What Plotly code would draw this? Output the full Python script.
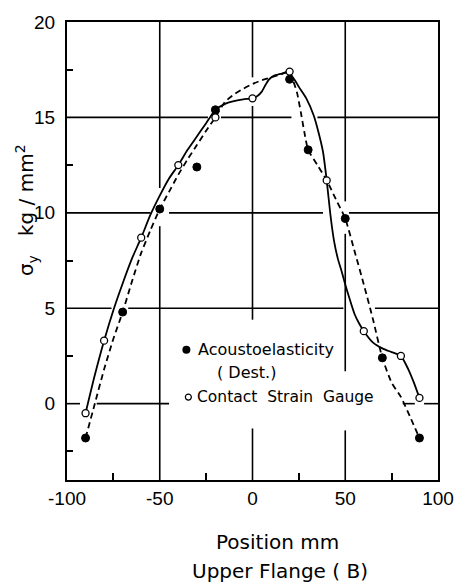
import plotly.graph_objects as go

# ---------------- data ----------------
pos_acoustic = [-90, -70, -50, -30, -20, 20, 30, 50, 70, 90]
sig_acoustic = [-1.8, 4.8, 10.2, 12.4, 15.4, 17.0, 13.3, 9.7, 2.4, -1.8]

pos_gauge = [-90, -80, -60, -40, -20, 0, 20, 40, 60, 80, 90]
sig_gauge = [-0.5, 3.3, 8.7, 12.5, 15.0, 16.0, 17.4, 11.7, 3.8, 2.5, 0.3]

# hand-drawn solid curve
solid_x = [-90, -85, -80, -75, -70, -65, -60, -55, -50, -45, -40, -35, -30, -25, -20,
           -15, -10, -5, 0, 3, 5, 7, 9, 12, 16, 19, 22.5, 25, 29, 33, 35.5, 38, 40,
           42, 44, 46, 48, 50, 52, 55, 57.5, 60, 65, 70, 75, 80, 84, 87, 90]
solid_y = [-0.5, 1.5, 3.3, 4.9, 6.3, 7.6, 8.7, 9.9, 10.9, 11.8, 12.5, 13.3, 14.0, 14.7, 15.4,
           15.7, 15.85, 15.95, 16.0, 16.15, 16.35, 16.7, 17.0, 17.2, 17.3, 17.35, 17.0, 16.6, 16.0, 15.1, 14.25, 13.2, 11.7,
           9.9, 8.5, 7.6, 6.95, 6.25, 5.6, 4.7, 4.2, 3.8, 3.2, 2.9, 2.7, 2.5, 1.8, 1.1, 0.3]

# hand-drawn dashed curve
dash_x = [-90, -85, -80, -75, -70, -65, -60, -55, -50, -45, -40, -35, -30, -25, -20,
          -15, -10, -5, 0, 5, 10, 15, 20, 22, 24, 26, 28, 30, 35, 40, 45, 50, 55, 60,
          65, 70, 75, 80, 85, 90]
dash_y = [-1.8, 0.0, 1.8, 3.4, 4.8, 6.4, 7.9, 9.1, 10.2, 11.1, 12.0, 12.8, 13.55, 14.3, 15.0,
          15.8, 16.2, 16.5, 16.75, 16.95, 17.1, 17.25, 17.4, 16.9, 16.3, 15.3, 14.2, 13.3, 12.5, 11.7, 10.7, 9.7, 8.0, 6.25,
          4.4, 2.4, 1.1, 0.35, -0.7, -1.8]

x_ticks = [-100, -50, 0, 50, 100]
x_ticktext = ["-100", "-50", "0", "50", "100"]
y_ticks = [0, 5, 10, 15, 20]
y_ticktext = ["0", "5", "10", "15", "20"]

legend_acoustic = "Acoustoelasticity"
legend_acoustic2 = "( Dest.)"
legend_gauge = "Contact\u00a0\u00a0Strain\u00a0\u00a0Gauge"

# ---------------- geometry helpers ----------------
W, H = 466, 584
L, R, T, B = 67, 443, 16, 480
XR = [-100, 100]
YR = [-4, 20]


def px2x(px):
    return XR[0] + (px - L) * (XR[1] - XR[0]) / (R - L)


def py2y(py):
    return YR[1] - (py - T) * (YR[1] - YR[0]) / (B - T)


def px2paper(px):
    return (px - L) / (R - L)


def py2paper(py):
    return (B - py) / (B - T)


fig = go.Figure()

# curves
fig.add_trace(go.Scatter(x=solid_x, y=solid_y, mode="lines",
                         line=dict(color="black", width=1.8, shape="spline", smoothing=0.6),
                         showlegend=False, hoverinfo="skip"))
fig.add_trace(go.Scatter(x=dash_x, y=dash_y, mode="lines",
                         line=dict(color="black", width=1.8, dash="6px,4px", shape="spline", smoothing=0.6),
                         showlegend=False, hoverinfo="skip"))

# points
fig.add_trace(go.Scatter(x=pos_acoustic, y=sig_acoustic, mode="markers", name="Acoustoelasticity (Dest.)",
                         marker=dict(symbol="circle", size=8, color="black", line=dict(color="black", width=1)),
                         showlegend=False))
fig.add_trace(go.Scatter(x=pos_gauge, y=sig_gauge, mode="markers", name="Contact Strain Gauge",
                         marker=dict(symbol="circle", size=7, color="white", line=dict(color="black", width=1.3)),
                         showlegend=False))

# legend symbols
fig.add_trace(go.Scatter(x=[px2x(188)], y=[py2y(348)], mode="markers",
                         marker=dict(symbol="circle", size=8, color="black"),
                         showlegend=False, hoverinfo="skip"))
fig.add_trace(go.Scatter(x=[px2x(190)], y=[py2y(396)], mode="markers",
                         marker=dict(symbol="circle", size=6, color="white", line=dict(color="black", width=1.2)),
                         showlegend=False, hoverinfo="skip"))

# hand drawn grid lines with gaps
vgrid = {
    -50: [(-4, 9.3), (11.3, 20)],
    0: [(-4, -1.3), (4.4, 15.6), (17.1, 20)],
    50: [(-4, -1.4), (1.7, 8.9), (10.6, 20)],
}
hgrid = {
    0: [(-100, -93), (-84, -45), (81, 87.5), (92.5, 100)],
    5: [(-100, -76), (-67, 49), (66, 100)],
    10: [(-100, -55), (-45, 38), (52, 100)],
    15: [(-100, -24), (-17, 21), (35, 100)],
}
shapes = []
for xv, segs in vgrid.items():
    for y0, y1 in segs:
        shapes.append(dict(type="line", xref="x", yref="y", x0=xv, x1=xv, y0=y0, y1=y1,
                           line=dict(color="black", width=1.6), layer="below"))
for yv, segs in hgrid.items():
    for x0, x1 in segs:
        shapes.append(dict(type="line", xref="x", yref="y", x0=x0, x1=x1, y0=yv, y1=yv,
                           line=dict(color="black", width=1.6), layer="below"))

font_txt = "DejaVu Sans"
annotations = [
    dict(x=px2x(198), y=py2y(348), xref="x", yref="y", text=legend_acoustic, showarrow=False,
         xanchor="left", yanchor="middle", font=dict(family=font_txt, size=16, color="black")),
    dict(x=px2x(217), y=py2y(371), xref="x", yref="y", text=legend_acoustic2, showarrow=False,
         xanchor="left", yanchor="middle", font=dict(family=font_txt, size=16, color="black")),
    dict(x=px2x(197), y=py2y(396), xref="x", yref="y", text=legend_gauge, showarrow=False,
         xanchor="left", yanchor="middle", font=dict(family=font_txt, size=15.5, color="black")),
    dict(x=px2paper(280), y=py2paper(543), xref="paper", yref="paper", text="Position mm", showarrow=False,
         xanchor="center", yanchor="middle", font=dict(family=font_txt, size=20, color="black")),
    dict(x=px2paper(283), y=py2paper(572), xref="paper", yref="paper", text="Upper Flange ( B)", showarrow=False,
         xanchor="center", yanchor="middle", font=dict(family=font_txt, size=20, color="black")),
    dict(x=px2paper(26), y=py2paper(207), xref="paper", yref="paper",
         text="σ<sub>y</sub>\u00a0\u00a0\u00a0kg / mm<sup>2</sup>", showarrow=False, textangle=-90,
         xanchor="center", yanchor="middle", font=dict(family=font_txt, size=20, color="black")),
]

fig.update_layout(
    width=W, height=H,
    margin=dict(l=L, r=W - R, t=T, b=H - B),
    paper_bgcolor="white", plot_bgcolor="white",
    shapes=shapes, annotations=annotations,
    showlegend=False,
    xaxis=dict(range=XR, tickmode="array", tickvals=x_ticks, ticktext=x_ticktext,
               showgrid=False, zeroline=False, showline=True, linecolor="black", linewidth=2, mirror=True,
               ticks="", ticklabelstandoff=0,
               tickfont=dict(family="Liberation Sans", size=19, color="black"),
               minor=dict(tickmode="array", tickvals=[-75, -25, 25, 75], ticks="inside", ticklen=7,
                          tickwidth=1.5, tickcolor="black", showgrid=False)),
    yaxis=dict(range=YR, tickmode="array", tickvals=y_ticks, ticktext=y_ticktext,
               showgrid=False, zeroline=False, showline=True, linecolor="black", linewidth=2, mirror=True,
               ticks="", ticklabelstandoff=6,
               tickfont=dict(family="Liberation Sans", size=19, color="black"),
               minor=dict(tickmode="array", tickvals=[-2.5, 2.5, 7.5, 12.5, 17.5], ticks="inside", ticklen=6,
                          tickwidth=1.5, tickcolor="black", showgrid=False)),
)

fig.write_html("out.html")
